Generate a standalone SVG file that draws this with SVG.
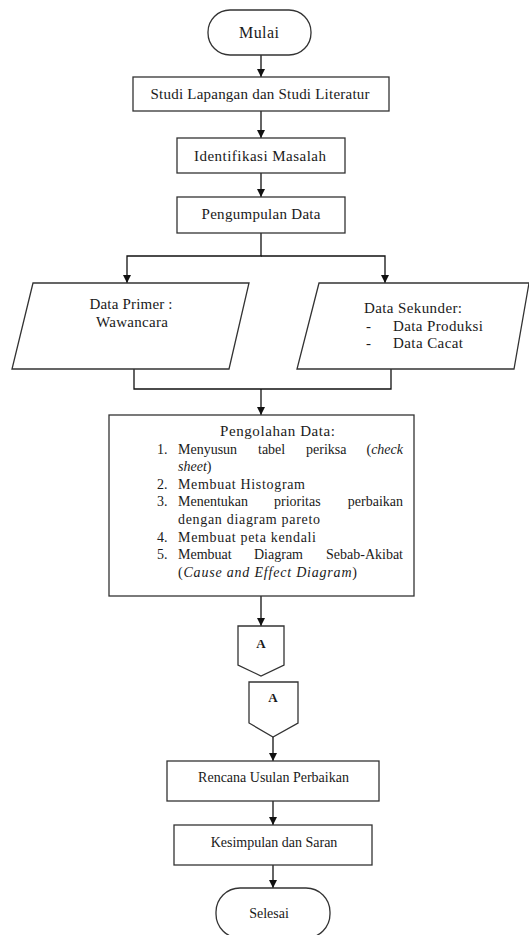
<svg xmlns="http://www.w3.org/2000/svg" width="529" height="935" viewBox="0 0 529 935">
<defs>
<marker id="ah" viewBox="0 0 10 10" refX="10" refY="5" markerWidth="8" markerHeight="8" markerUnits="userSpaceOnUse" orient="auto">
<path d="M0,0 L10,5 L0,10 z" fill="#111"/>
</marker>
<style>
.s{fill:#fff;stroke:#333;stroke-width:1.3}
.c{fill:none;stroke:#111;stroke-width:1.3}
.t{font-family:"Liberation Serif","Times New Roman",serif;font-size:15px;fill:#1a1a1a}
.l{font-size:14px}
.k{font-size:14px}
.m{text-anchor:middle}
.e{text-anchor:end}
.i{font-style:italic}
.b{font-weight:bold;font-size:13px}
</style>
</defs>
<rect width="529" height="935" fill="#fff"/>
<g id="connectors">
<line class="c" x1="261" y1="55" x2="261" y2="77" marker-end="url(#ah)"/>
<line class="c" x1="261" y1="111" x2="261" y2="138" marker-end="url(#ah)"/>
<line class="c" x1="261" y1="173" x2="261" y2="197" marker-end="url(#ah)"/>
<polyline class="c" points="261,233 261,256 127,256 127,283" marker-end="url(#ah)"/>
<polyline class="c" points="261,256 385,256 385,283" marker-end="url(#ah)"/>
<polyline class="c" points="134,369 134,389 391,389 391,369"/>
<line class="c" x1="261" y1="389" x2="261" y2="415" marker-end="url(#ah)"/>
<line class="c" x1="261" y1="596" x2="261" y2="626" marker-end="url(#ah)"/>
<line class="c" x1="273" y1="737" x2="273" y2="761" marker-end="url(#ah)"/>
<line class="c" x1="273" y1="801" x2="273" y2="825" marker-end="url(#ah)"/>
<line class="c" x1="273" y1="865" x2="273" y2="888" marker-end="url(#ah)"/>
</g>
<g id="mulai">
<rect class="s" x="208" y="10" width="103" height="45" rx="22" ry="22"/>
<text class="t m" x="259" y="38" style="font-size:16px" textLength="40">Mulai</text>
</g>
<g id="studi">
<rect class="s" x="133" y="77" width="256" height="34"/>
<text class="t m" x="260" y="99" textLength="219">Studi Lapangan dan Studi Literatur</text>
</g>
<g id="identifikasi">
<rect class="s" x="177" y="138" width="168" height="35"/>
<text class="t m" x="260" y="161" textLength="132">Identifikasi Masalah</text>
</g>
<g id="pengumpulan">
<rect class="s" x="177" y="197" width="168" height="36"/>
<text class="t m" x="261" y="219" textLength="119">Pengumpulan Data</text>
</g>
<g id="data-primer">
<polygon class="s" points="33,283 249,283 229,369 12,369"/>
<text class="t m" x="131" y="309" textLength="83">Data Primer :</text>
<text class="t m" x="132" y="327" textLength="72">Wawancara</text>
</g>
<g id="data-sekunder">
<polygon class="s" points="319,283 529,283 514,369 297,369"/>
<text class="t" x="364" y="313" textLength="98">Data Sekunder:</text>
<text class="t" x="366" y="331">-</text>
<text class="t" x="393" y="331" textLength="90">Data Produksi</text>
<text class="t" x="366" y="348">-</text>
<text class="t" x="393" y="348" textLength="70">Data Cacat</text>
</g>
<g id="pengolahan">
<rect class="s" x="109" y="415" width="305" height="181"/>
<text class="t m" x="277.5" y="436" textLength="115">Pengolahan Data:</text>
<text class="t l" x="157" y="454">1.</text>
<text class="t l" x="178" y="454">Menyusun</text>
<text class="t l" x="258" y="454">tabel</text>
<text class="t l" x="306" y="454">periksa</text>
<text class="t l e" x="403" y="454">(<tspan class="i">check</tspan></text>
<text class="t l" x="178" y="471"><tspan class="i">sheet</tspan>)</text>
<text class="t l" x="157" y="489">2.</text>
<text class="t l" x="178" y="489" textLength="127">Membuat Histogram</text>
<text class="t l" x="157" y="506">3.</text>
<text class="t l" x="178" y="506">Menentukan</text>
<text class="t l" x="274" y="506">prioritas</text>
<text class="t l e" x="403" y="506">perbaikan</text>
<text class="t l" x="178" y="524" textLength="142">dengan diagram pareto</text>
<text class="t l" x="157" y="542">4.</text>
<text class="t l" x="178" y="542" textLength="138">Membuat peta kendali</text>
<text class="t l" x="157" y="559">5.</text>
<text class="t l" x="178" y="559">Membuat</text>
<text class="t l" x="254" y="559">Diagram</text>
<text class="t l e" x="403" y="559">Sebab-Akibat</text>
<text class="t l" x="178" y="577" textLength="179">(<tspan class="i">Cause and Effect Diagram</tspan>)</text>
</g>
<g id="offpage-a1">
<polygon class="s" points="238,626 284,626 284,665 261,676 238,665"/>
<text class="t m b" x="261" y="648">A</text>
</g>
<g id="offpage-a2">
<polygon class="s" points="249,682 298,682 298,723 273,737 249,723"/>
<text class="t m b" x="273" y="702">A</text>
</g>
<g id="rencana">
<rect class="s" x="167" y="761" width="212" height="40"/>
<text class="t k m" x="273.5" y="782">Rencana Usulan Perbaikan</text>
</g>
<g id="kesimpulan">
<rect class="s" x="174" y="825" width="198" height="40"/>
<text class="t k m" x="274" y="847">Kesimpulan dan Saran</text>
</g>
<g id="selesai">
<rect class="s" x="216" y="888" width="114" height="50" rx="24" ry="24"/>
<text class="t k m" x="269" y="918">Selesai</text>
</g>
</svg>
